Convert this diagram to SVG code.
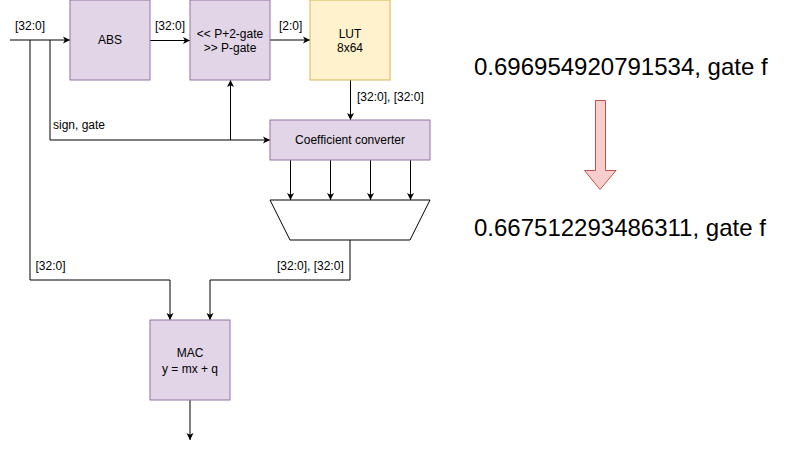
<svg xmlns="http://www.w3.org/2000/svg" width="789" height="449" viewBox="0 0 789 449">
<defs>
<style>
.box{fill:#e1d5e7;stroke:#9673a6;stroke-width:1}
.lut{fill:#fff2cc;stroke:#d6b656;stroke-width:1}
.t{font-family:"Liberation Sans",Arial,Helvetica,sans-serif;font-size:12px;fill:#000}
.c{text-anchor:middle}
.big{font-family:"Liberation Sans",Arial,Helvetica,sans-serif;font-size:24px;fill:#000}
.ln{fill:none;stroke:#000;stroke-width:1}
</style>
<marker id="ah" markerWidth="9" markerHeight="9" refX="7" refY="4" orient="auto" markerUnits="userSpaceOnUse">
<path d="M0,0.5 L7,4 L0,7.5 L1.8,4 z" fill="#000"/>
</marker>
</defs>
<g id="connectors">
<path class="ln" d="M10,40 H70" marker-end="url(#ah)"/>
<path class="ln" d="M30,40 V280 H170 V320" marker-end="url(#ah)"/>
<path class="ln" d="M50,40 V140 H270" marker-end="url(#ah)"/>
<path class="ln" d="M230.5,140 V80" marker-end="url(#ah)"/>
<path class="ln" d="M150,40.5 H190" marker-end="url(#ah)"/>
<path class="ln" d="M270,40 H310" marker-end="url(#ah)"/>
<path class="ln" d="M350.5,80 V120" marker-end="url(#ah)"/>
<path class="ln" d="M290.5,160 V200" marker-end="url(#ah)"/>
<path class="ln" d="M330.5,160 V200" marker-end="url(#ah)"/>
<path class="ln" d="M370.5,160 V200" marker-end="url(#ah)"/>
<path class="ln" d="M410.5,160 V200" marker-end="url(#ah)"/>
<path class="ln" d="M350,240 V280 H210 V320" marker-end="url(#ah)"/>
<path class="ln" d="M190,400 V440" marker-end="url(#ah)"/>
<text class="t" x="15" y="30">[32:0]</text>
<text class="t" x="155" y="30">[32:0]</text>
<text class="t" x="279" y="30">[2:0]</text>
<text class="t" x="357" y="101">[32:0], [32:0]</text>
<text class="t" x="53" y="129">sign, gate</text>
<text class="t" x="35.5" y="270">[32:0]</text>
<text class="t" x="277" y="270">[32:0], [32:0]</text>
</g>
<g id="abs">
<rect class="box" x="70" y="0" width="80" height="80"/>
<text class="t c" x="110" y="44">ABS</text>
</g>
<g id="shift">
<rect class="box" x="190" y="0" width="80" height="80"/>
<text class="t c" x="230" y="37.5">&lt;&lt; P+2-gate</text>
<text class="t c" x="230" y="51.5">&gt;&gt; P-gate</text>
</g>
<g id="lut">
<rect class="lut" x="310" y="0" width="80" height="80"/>
<text class="t c" x="350" y="37.5">LUT</text>
<text class="t c" x="350" y="51.5">8x64</text>
</g>
<g id="coeff">
<rect class="box" x="270" y="120" width="160" height="40"/>
<text class="t c" x="350" y="144">Coefficient converter</text>
</g>
<g id="mux">
<path d="M270,200 H430 L410,240 H290 Z" fill="#fff" stroke="#000" stroke-width="1"/>
</g>
<g id="mac">
<rect class="box" x="150" y="320" width="80" height="80"/>
<text class="t c" x="190" y="357">MAC</text>
<text class="t c" x="190" y="373">y = mx + q</text>
</g>
<g id="text1">
<text class="big" x="474" y="75">0.696954920791534, gate f</text>
</g>
<g id="arrow">
<path d="M595.5,100.5 H605.5 V170.5 H616 L600,189.5 L584.5,170.5 H595.5 Z" fill="#f8cecc" stroke="#b85450" stroke-width="1"/>
</g>
<g id="text2">
<text class="big" x="474" y="236">0.667512293486311, gate f</text>
</g>
</svg>
